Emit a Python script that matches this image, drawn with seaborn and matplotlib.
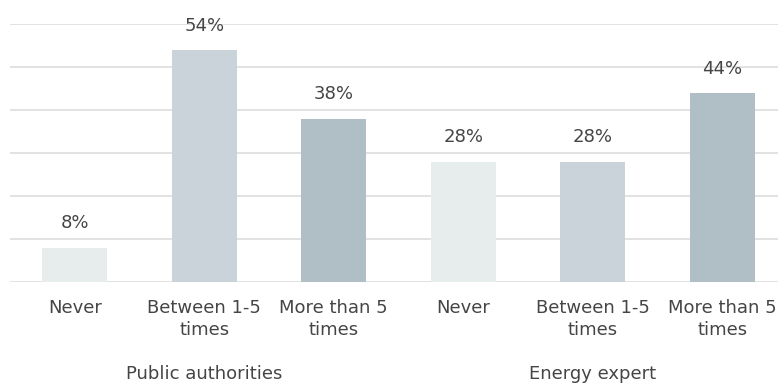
import matplotlib
matplotlib.use("Agg")
import matplotlib.pyplot as plt
import matplotlib.transforms as mtransforms
import seaborn as sns
import pandas as pd

# Survey answers, split by respondent group
groups = ["Public authorities", "Public authorities", "Public authorities",
          "Energy expert", "Energy expert", "Energy expert"]
answers = ["Never", "Between 1-5\ntimes", "More than 5\ntimes",
           "Never", "Between 1-5\ntimes", "More than 5\ntimes"]
shares = [8, 54, 38, 28, 28, 44]
colors = ["#E7EDED", "#CAD3DA", "#AFBFC5", "#E7EDED", "#CAD3DA", "#AFBFC5"]
group_names = ["Public authorities", "Energy expert"]

df = pd.DataFrame({
    "key": [f"{g}|{a}" for g, a in zip(groups, answers)],
    "group": groups,
    "answer": answers,
    "share": shares,
})

sns.set_theme(style="white")
plt.rcParams["font.family"] = ["DejaVu Sans"]
text_color = "#454545"
fs = 13

fig = plt.figure(figsize=(7.78, 3.83), dpi=100)
ax = fig.add_axes([10 / 778, 101 / 383, 777 / 778, 258 / 383])

sns.barplot(data=df, x="key", y="share", hue="key", palette=colors,
            order=df["key"], hue_order=df["key"], width=0.5,
            legend=False, ax=ax, saturation=1, linewidth=0)

ax.set_ylim(0, 60)
ax.set_xlim(-0.5, len(df) - 0.5)
for v in range(0, 61, 10):
    ax.axhline(v, color="#E2E2E2", lw=1.4, zorder=0)

for cont in ax.containers:
    ax.bar_label(cont, labels=[f"{v:.0f}%" for v in cont.datavalues],
                 padding=11, fontsize=fs, color=text_color)

ax.set_yticks([])
ax.set_xticks(range(len(df)))
ax.set_xticklabels(df["answer"], fontsize=fs, color=text_color, linespacing=1.3)
ax.tick_params(axis="x", length=0, pad=12)
ax.set_xlabel("")
ax.set_ylabel("")
for s in ax.spines.values():
    s.set_visible(False)

# Group captions centred under each block of three bars
trans = mtransforms.blended_transform_factory(ax.transData, fig.transFigure)
for i, name in enumerate(group_names):
    ax.text(i * 3 + 1, 4 / 383, name, transform=trans, ha="center",
            va="baseline", fontsize=fs, color=text_color)

fig.savefig("out.png", dpi=100)
